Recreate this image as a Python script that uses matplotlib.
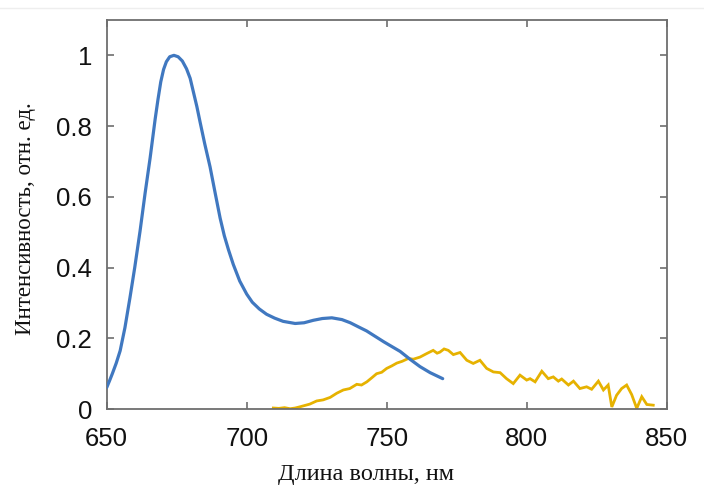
import matplotlib
matplotlib.use("Agg")
import matplotlib.pyplot as plt
from matplotlib.lines import Line2D

# Absorption spectrum (blue)
abs_wl = [650, 651, 652, 653.4, 654.8, 656.5, 658.3, 660, 661.9, 663.7, 665.5,
          667.3, 668.3, 669.3, 670.3, 671.3, 672.5, 674, 675.5, 677, 678.5,
          679.8, 681, 682.2, 683.3, 685, 686.9, 688.7, 690.5, 692, 693.5, 695.2,
          697.5, 700, 702, 704.5, 707.1, 710, 713, 717.3, 720.5, 723.8, 727,
          730.4, 734, 737, 740, 742.8, 746, 749, 752, 754.8, 758.3, 761.9,
          765.5, 770]
abs_int = [0.061, 0.08, 0.10, 0.13, 0.165, 0.23, 0.315, 0.40, 0.503, 0.61, 0.71,
           0.82, 0.875, 0.925, 0.96, 0.982, 0.996, 1.0, 0.996, 0.984, 0.962,
           0.935, 0.895, 0.855, 0.813, 0.75, 0.685, 0.612, 0.54, 0.49, 0.45, 0.409,
           0.362, 0.325, 0.302, 0.283, 0.268, 0.257, 0.248, 0.242, 0.244, 0.251, 0.256,
           0.258, 0.253, 0.244, 0.232, 0.221, 0.205, 0.19, 0.176, 0.163, 0.141, 0.12,
           0.103, 0.086]

# Emission spectrum (yellow)
em_wl = [709.5, 711.5, 713.5, 715.5, 717.3, 718.8, 720.2, 722.5, 725, 727.3, 729.8,
         732.2, 734.5, 736.8, 739.3, 741, 742.9, 744.6, 746.4, 748.2, 750, 751.8,
         753.6, 755.5, 757.7, 759.5, 761.9, 764.3, 766.6, 768, 769, 770.5, 772,
         773.8, 776.2, 778.6, 780.9, 783.3, 785.7, 788.1, 790.5, 792.8, 795.2,
         797.6, 800, 801.2, 803, 805.4, 807.7, 809.5, 811.3, 812.5, 814.9, 816.7,
         819, 821.4, 823.2, 825.6, 827.4, 829.1, 830.4, 832.1, 833.9, 835.7,
         837.5, 839.3, 841.1, 842.9, 845.2]
em_int = [0.003, 0.002, 0.004, 0.001, 0.003, 0.006, 0.009, 0.014, 0.023, 0.026, 0.033,
          0.045, 0.054, 0.058, 0.07, 0.068, 0.077, 0.088, 0.1, 0.104, 0.115, 0.122,
          0.13, 0.135, 0.143, 0.141, 0.147, 0.157, 0.166, 0.158, 0.161, 0.17, 0.166,
          0.154, 0.16, 0.138, 0.129, 0.138, 0.115, 0.105, 0.103, 0.086, 0.072,
          0.096, 0.082, 0.086, 0.077, 0.107, 0.086, 0.091, 0.079, 0.085, 0.068, 0.079,
          0.058, 0.063, 0.056, 0.079, 0.054, 0.068, 0.006, 0.039, 0.058, 0.068,
          0.041, 0.002, 0.035, 0.013, 0.011]

x_ticks = [650, 700, 750, 800, 850]
y_ticks = [0, 0.2, 0.4, 0.6, 0.8, 1.0]
y_tick_labels = ["0", "0.2", "0.4", "0.6", "0.8", "1"]

fig = plt.figure(figsize=(7.04, 4.87), dpi=100)
ax = fig.add_axes([0.1516, 0.160, 0.7954, 0.799])

ax.plot(abs_wl, abs_int, color="#4078c0", lw=2.3, solid_capstyle="round",
        solid_joinstyle="round", zorder=3)
ax.plot(em_wl, em_int, color="#e6b200", lw=2.0, solid_joinstyle="miter", zorder=2)

ax.set_xlim(650, 850)
ax.set_ylim(0, 1.1)
ax.set_xticks(x_ticks)
ax.set_yticks(y_ticks)
ax.set_yticklabels(y_tick_labels)

spine_col = "#6e6e6e"
for s in ax.spines.values():
    s.set_color(spine_col)
    s.set_linewidth(1.3)
ax.tick_params(direction="in", length=5, width=1.2, color=spine_col,
               top=True, right=True, labelsize=18.5)
ax.tick_params(axis="y", pad=10.5)
ax.tick_params(axis="x", pad=13)
for lab in ax.get_xticklabels() + ax.get_yticklabels():
    lab.set_fontfamily("Liberation Sans")
    lab.set_color("#111111")

ax.set_xlabel("Длина волны, нм", fontfamily="Liberation Serif", fontsize=17.5,
              color="#111111")
ax.xaxis.set_label_coords(0.4636, -0.14)
ax.set_ylabel("Интенсивность, отн. ед.", fontfamily="Liberation Serif", fontsize=16.5,
              color="#111111")
ax.yaxis.set_label_coords(-0.127, 0.49)

# faint page separator along the top
fig.add_artist(Line2D([0, 1], [0.983, 0.983], transform=fig.transFigure,
                      color="#eeeeee", lw=1.0))

fig.savefig("out.png", dpi=100, facecolor="white")
